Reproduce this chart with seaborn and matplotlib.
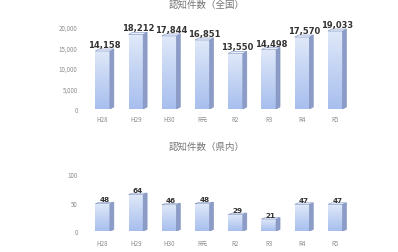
import pandas as pd
import numpy as np
import matplotlib.pyplot as plt
import seaborn as sns
from matplotlib.patches import Polygon
from matplotlib.colors import LinearSegmentedColormap

# ── Data ─────────────────────────────────────────────────────
years = ['H28', 'H29', 'H30', 'R元', 'R2', 'R3', 'R4', 'R5']
national = [14158, 18212, 17844, 16851, 13550, 14498, 17570, 19033]
prefecture = [48, 64, 46, 48, 29, 21, 47, 47]
national_ticks = [0, 5000, 10000, 15000, 20000]
pref_ticks = [0, 50, 100]

sns.set_theme(style='white')
plt.rcParams['font.family'] = ['Noto Sans CJK JP', 'DejaVu Sans']

fig = plt.figure(figsize=(3.98, 2.53), dpi=100)
ax1 = fig.add_axes([0.216, 0.565, 0.668, 0.324])
ax2 = fig.add_axes([0.216, 0.083, 0.668, 0.225])

edge = '#7f93c0'
side = '#8d9cc6'
# vertical gradient: light at the top, bluer at the bottom
grad = LinearSegmentedColormap.from_list('g', ['#a8bfee', '#c3d3f3', '#e0e9f9'])


def draw_panel(ax, values, ticks, title, fmt, ymax, title_y, lsize, xpad):
    df = pd.DataFrame({'year': years, 'value': values})
    sns.barplot(data=df, x='year', y='value', ax=ax, color='#c9d8f2',
                edgecolor=edge, linewidth=0.5, width=0.44, saturation=1)
    dx = 0.12
    dy = ymax * 0.025
    bars = list(ax.patches)
    for p in bars:
        x0, w, h = p.get_x(), p.get_width(), p.get_height()
        im = ax.imshow(np.linspace(0, 1, 50).reshape(-1, 1), cmap=grad, origin='lower',
                       extent=[x0, x0 + w, 0, h], aspect='auto', zorder=p.get_zorder())
        im.set_clip_path(p)
        # fake 3D side and top faces
        ax.add_patch(Polygon([[x0 + w, 0], [x0 + w + dx, dy],
                              [x0 + w + dx, h + dy], [x0 + w, h]],
                             closed=True, facecolor=side, edgecolor=edge, lw=0.4, zorder=3))
        ax.add_patch(Polygon([[x0, h], [x0 + dx, h + dy],
                              [x0 + w + dx, h + dy], [x0 + w, h]],
                             closed=True, facecolor='#e8eefa', edgecolor=edge, lw=0.4, zorder=3))
        ax.text(x0 + w / 2 + dx / 2, h + dy, fmt(h), ha='center', va='bottom',
                fontsize=lsize, fontweight='bold', color='#333333',
                family=['DejaVu Sans'], zorder=4)
    ax.set_ylim(0, ymax)
    ax.set_xlim(-0.5, len(years) - 0.5)
    ax.set_yticks(ticks)
    ax.set_yticklabels([f'{t:,}' for t in ticks], fontsize=4.5, color='#8c8c8c')
    ax.tick_params(axis='x', labelsize=4.5, colors='#8c8c8c', pad=xpad, length=0)
    ax.tick_params(axis='y', pad=6, length=0)
    ax.set_xlabel('')
    ax.set_ylabel('')
    for s in ax.spines.values():
        s.set_visible(False)
    fig.text(0.518, title_y, title, ha='center', va='center',
             fontsize=6.8, color='#777777')


draw_panel(ax1, national, national_ticks, '認知件数（全国）',
           lambda v: f'{int(v):,}', 20000, 0.978, 6, 4)
draw_panel(ax2, prefecture, pref_ticks, '認知件数（県内）',
           lambda v: f'{int(v)}', 100, 0.42, 5.2, 6)

fig.savefig('out.png', dpi=100)
